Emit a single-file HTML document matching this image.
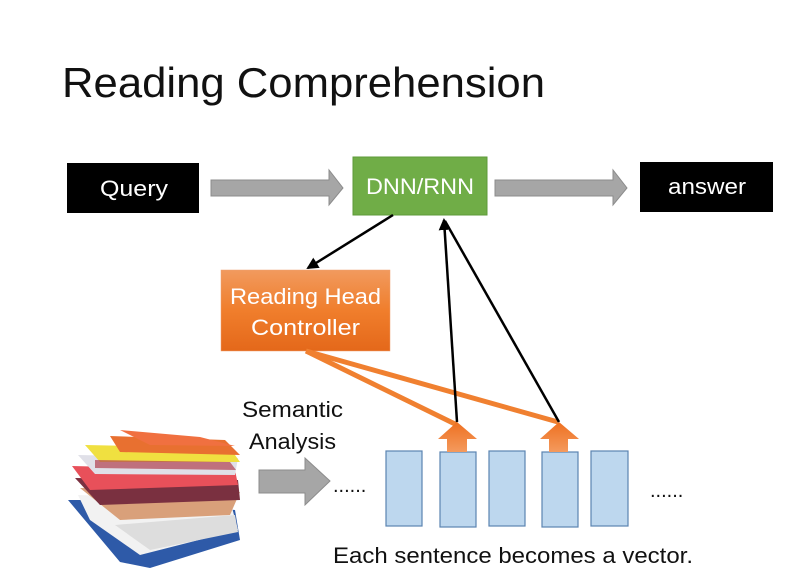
<!DOCTYPE html>
<html><head><meta charset="utf-8"><style>
html,body{margin:0;padding:0;background:#fff}
svg{display:block}
text{font-family:"Liberation Sans",sans-serif}
</style></head><body>
<svg width="796" height="588" viewBox="0 0 796 588" xmlns="http://www.w3.org/2000/svg">
<defs>
<linearGradient id="og" x1="0" y1="0" x2="0" y2="1"><stop offset="0" stop-color="#f19a5e"/><stop offset="0.5" stop-color="#f07e2c"/><stop offset="1" stop-color="#e4681a"/></linearGradient>
<linearGradient id="ag" x1="0" y1="0" x2="0" y2="1"><stop offset="0" stop-color="#ee7020"/><stop offset="1" stop-color="#f49a5e"/></linearGradient>
<marker id="ah" markerWidth="12" markerHeight="12" refX="10" refY="6" orient="auto" markerUnits="userSpaceOnUse"><path d="M0,0 L12,6 L0,12 z" fill="#000"/></marker>
</defs>
<text x="62" y="97" font-size="42" fill="#111" textLength="483" lengthAdjust="spacingAndGlyphs">Reading Comprehension</text>
<rect x="67" y="163" width="132" height="50" fill="#000"/>
<text x="100" y="196" font-size="22" fill="#fff" textLength="68" lengthAdjust="spacingAndGlyphs">Query</text>
<path d="M211,180 H329 V170 L343,188 L329,205 V196 H211 Z" fill="#a6a6a6" stroke="#8c8c8c"/>
<rect x="353" y="157" width="134" height="58" fill="#70ad47" stroke="#5e9a3a"/>
<text x="366" y="194" font-size="22" fill="#fff" textLength="108" lengthAdjust="spacingAndGlyphs">DNN/RNN</text>
<path d="M495,180 H613 V170 L627,188 L613,205 V196 H495 Z" fill="#a6a6a6" stroke="#8c8c8c"/>
<rect x="640" y="162" width="133" height="50" fill="#000"/>
<text x="668" y="194" font-size="22" fill="#fff" textLength="78" lengthAdjust="spacingAndGlyphs">answer</text>
<rect x="221" y="270" width="169" height="81" fill="url(#og)" stroke="#f0a070" stroke-width="0.5"/>
<text x="230" y="304" font-size="22" fill="#fff" textLength="151" lengthAdjust="spacingAndGlyphs">Reading Head</text>
<text x="251" y="335" font-size="22" fill="#fff" textLength="109" lengthAdjust="spacingAndGlyphs">Controller</text>
<line x1="393" y1="215" x2="308" y2="268" stroke="#000" stroke-width="2.5" marker-end="url(#ah)"/>
<line x1="306" y1="351" x2="457" y2="425" stroke="#f08030" stroke-width="5"/>
<line x1="306" y1="351" x2="558" y2="422" stroke="#f08030" stroke-width="5"/>
<line x1="457" y1="422" x2="444" y2="220" stroke="#000" stroke-width="2.5" marker-end="url(#ah)"/>
<line x1="559" y1="422" x2="445" y2="221" stroke="#000" stroke-width="2.5"/>
<g fill="#bdd7ee" stroke="#5b84b1" stroke-width="1.2">
<rect x="386" y="451" width="36" height="75"/>
<rect x="440" y="452" width="36" height="75"/>
<rect x="489" y="451" width="36" height="75"/>
<rect x="542" y="452" width="36" height="75"/>
<rect x="591" y="451" width="37" height="75"/>
</g>
<path d="M438,439 L457,422 L477,439 H467 V452 H447 V439 Z" fill="url(#ag)"/>
<path d="M540,439 L559,422 L579,439 H568 V452 H549 V439 Z" fill="url(#ag)"/>
<text x="333" y="492" font-size="20" fill="#111">......</text>
<text x="650" y="497" font-size="20" fill="#111">......</text>
<path d="M259,470 H305 V458 L330,481 L305,505 V493 H259 Z" fill="#a6a6a6" stroke="#8c8c8c"/>
<text x="242" y="417" font-size="22" fill="#111" textLength="101" lengthAdjust="spacingAndGlyphs">Semantic</text>
<text x="249" y="449" font-size="22" fill="#111" textLength="87" lengthAdjust="spacingAndGlyphs">Analysis</text>
<text x="333" y="563" font-size="22" fill="#111" textLength="360" lengthAdjust="spacingAndGlyphs">Each sentence becomes a vector.</text>
<g>
<path d="M68,500 L110,500 L235,510 L240,540 L150,568 L120,562 Z" fill="#2e5aa8"/>
<path d="M78,495 L230,500 L238,530 L140,555 L90,520 Z" fill="#f2f2f2"/>
<path d="M80,488 L240,492 L230,515 L120,520 Z" fill="#d9a07a"/>
<path d="M75,478 L238,480 L240,500 L100,505 Z" fill="#7a3040"/>
<path d="M72,466 L235,470 L238,485 L90,490 Z" fill="#e8505a"/>
<path d="M78,455 L238,458 L235,475 L95,474 Z" fill="#e0e0e8"/>
<path d="M85,445 L230,448 L240,462 L100,462 Z" fill="#f0e040"/>
<path d="M110,436 L225,440 L240,455 L120,452 Z" fill="#e87030"/>
<path d="M120,430 L200,437 L235,446 L150,445 Z" fill="#f07040"/>
<path d="M95,460 L230,462 L236,470 L95,468 Z" fill="#b04050" opacity="0.7"/>
<path d="M115,525 L235,515 L238,532 L150,550 Z" fill="#ddd"/>
</g>
</svg>
</body></html>
